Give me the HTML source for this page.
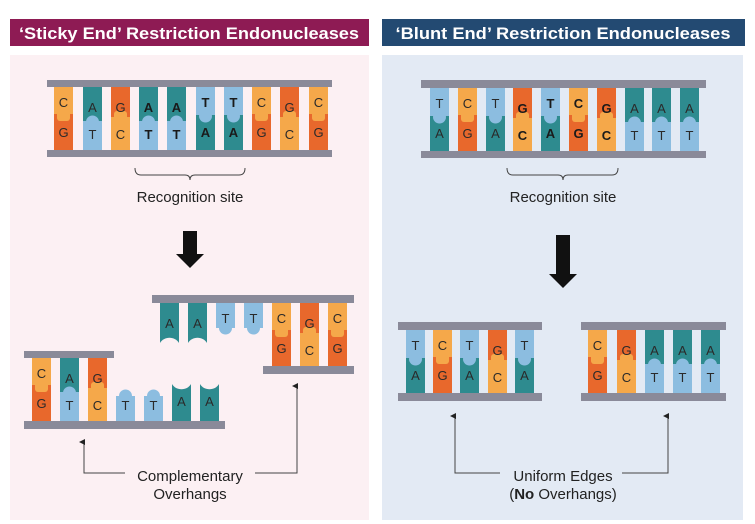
<!DOCTYPE html>
<html><head><meta charset="utf-8"><style>
html,body{margin:0;padding:0;background:#fff;}
svg{display:block;}
text{font-family:"Liberation Sans",Arial,sans-serif;}
.b{font-size:13px;fill:#2a2a2a;text-anchor:middle;}
.bb{font-size:13px;fill:#1a1a1a;text-anchor:middle;font-weight:bold;}
.lbl{font-size:15px;fill:#222;text-anchor:middle;}
</style></head><body>
<svg width="755" height="524" viewBox="0 0 755 524" xmlns="http://www.w3.org/2000/svg">
<defs>
<g id="CG"><rect x="0" y="0" width="19" height="63" fill="#e8682c"/><rect x="0" y="0" width="19" height="27" fill="#f5a84a"/><rect x="3" y="20" width="13" height="14" rx="3" fill="#f5a84a"/></g>
<g id="GC"><rect x="0" y="0" width="19" height="63" fill="#f5a84a"/><rect x="0" y="0" width="19" height="30" fill="#e8682c"/><rect x="0" y="36" width="19" height="27" fill="#f5a84a"/><rect x="3" y="24" width="13" height="14" rx="3" fill="#f5a84a"/></g>
<g id="TA"><rect x="0" y="0" width="19" height="63" fill="#2e8b8f"/><rect x="0" y="0" width="19" height="28" fill="#8cbde0"/><circle cx="9.5" cy="29" r="6.5" fill="#8cbde0"/></g>
<g id="AT"><rect x="0" y="0" width="19" height="63" fill="#8cbde0"/><rect x="0" y="0" width="19" height="34" fill="#2e8b8f"/><circle cx="9.5" cy="35" r="6.5" fill="#8cbde0"/></g>
<g id="Ad"><path d="M0,0H19V40C15,33 4,33 0,40Z" fill="#2e8b8f"/></g>
<g id="Td"><rect x="0" y="0" width="19" height="25" fill="#8cbde0"/><circle cx="9.5" cy="25" r="6.5" fill="#8cbde0"/></g>
<g id="Tu"><rect x="0" y="38" width="19" height="25" fill="#8cbde0"/><circle cx="9.5" cy="38" r="6.5" fill="#8cbde0"/></g>
<g id="Au"><path d="M0,26C4,33 15,33 19,26V63H0Z" fill="#2e8b8f"/></g>
<marker id="ar" markerWidth="6" markerHeight="6" refX="3" refY="5" orient="auto-start-reverse" viewBox="0 0 6 6"><path d="M0,6L3,0L6,6Z" fill="#222"/></marker>
</defs>

<!-- headers & panels -->
<rect x="10" y="19" width="359" height="27" fill="#8e1b54"/>
<rect x="382" y="19" width="363" height="27" fill="#234a72"/>
<text x="189" y="39" fill="#fff" font-size="17" font-weight="bold" text-anchor="middle" textLength="340" lengthAdjust="spacingAndGlyphs">‘Sticky End’ Restriction Endonucleases</text>
<text x="563" y="39" fill="#fff" font-size="17" font-weight="bold" text-anchor="middle" textLength="335" lengthAdjust="spacingAndGlyphs">‘Blunt End’ Restriction Endonucleases</text>
<rect x="10" y="55" width="359" height="465" fill="#fcf0f3"/>
<rect x="382" y="55" width="361" height="465" fill="#e3eaf4"/>

<!-- LEFT TOP DNA -->
<rect x="47" y="80" width="285" height="7" fill="#8a8a99"/>
<rect x="47" y="150" width="285" height="7" fill="#8a8a99"/>
<g transform="translate(0,87)">
<use href="#CG" x="54"/><use href="#AT" x="83"/><use href="#GC" x="111"/><use href="#AT" x="139"/><use href="#AT" x="167"/><use href="#TA" x="196"/><use href="#TA" x="224"/><use href="#CG" x="252"/><use href="#GC" x="280"/><use href="#CG" x="309"/>
<text class="b" x="63.5" y="20">C</text><text class="b" x="63.5" y="50">G</text>
<text class="b" x="92.5" y="25">A</text><text class="b" x="92.5" y="52">T</text>
<text class="b" x="120.5" y="25">G</text><text class="b" x="120.5" y="52">C</text>
<text class="bb" x="148.5" y="25">A</text><text class="bb" x="148.5" y="52">T</text>
<text class="bb" x="176.5" y="25">A</text><text class="bb" x="176.5" y="52">T</text>
<text class="bb" x="205.5" y="20">T</text><text class="bb" x="205.5" y="50">A</text>
<text class="bb" x="233.5" y="20">T</text><text class="bb" x="233.5" y="50">A</text>
<text class="b" x="261.5" y="20">C</text><text class="b" x="261.5" y="50">G</text>
<text class="b" x="289.5" y="25">G</text><text class="b" x="289.5" y="52">C</text>
<text class="b" x="318.5" y="20">C</text><text class="b" x="318.5" y="50">G</text>
</g>
<path d="M135,168 q0,7 6,7 H185 q5,0 5,5 q0,-5 5,-5 H239 q6,0 6,-7" fill="none" stroke="#444" stroke-width="1"/>
<text class="lbl" x="190" y="202">Recognition site</text>
<path d="M183,231H197V254H204L190,268L176,254H183Z" fill="#111"/>

<!-- LEFT FRAG 2 (upper right) -->
<rect x="152" y="295" width="202" height="8" fill="#8a8a99"/>
<rect x="263" y="366" width="91" height="8" fill="#8a8a99"/>
<g transform="translate(0,303)">
<use href="#Ad" x="160"/><use href="#Ad" x="188"/><use href="#Td" x="216"/><use href="#Td" x="244"/><use href="#CG" x="272"/><use href="#GC" x="300"/><use href="#CG" x="328"/>
<text class="b" x="169.5" y="25">A</text><text class="b" x="197.5" y="25">A</text>
<text class="b" x="225.5" y="20">T</text><text class="b" x="253.5" y="20">T</text>
<text class="b" x="281.5" y="20">C</text><text class="b" x="281.5" y="50">G</text>
<text class="b" x="309.5" y="25">G</text><text class="b" x="309.5" y="52">C</text>
<text class="b" x="337.5" y="20">C</text><text class="b" x="337.5" y="50">G</text>
</g>

<!-- LEFT FRAG 1 (lower left) -->
<rect x="24" y="351" width="90" height="7" fill="#8a8a99"/>
<rect x="24" y="421" width="201" height="8" fill="#8a8a99"/>
<g transform="translate(0,358)">
<use href="#CG" x="32"/><use href="#AT" x="60"/><use href="#GC" x="88"/><use href="#Tu" x="116"/><use href="#Tu" x="144"/><use href="#Au" x="172"/><use href="#Au" x="200"/>
<text class="b" x="41.5" y="20">C</text><text class="b" x="41.5" y="50">G</text>
<text class="b" x="69.5" y="25">A</text><text class="b" x="69.5" y="52">T</text>
<text class="b" x="97.5" y="25">G</text><text class="b" x="97.5" y="52">C</text>
<text class="b" x="125.5" y="52">T</text><text class="b" x="153.5" y="52">T</text>
<text class="b" x="181.5" y="48">A</text><text class="b" x="209.5" y="48">A</text>
</g>
<polyline points="125,473 84,473 84,442" fill="none" stroke="#444" stroke-width="1" marker-end="url(#ar)"/>
<polyline points="255,473 297,473 297,386" fill="none" stroke="#444" stroke-width="1" marker-end="url(#ar)"/>
<text class="lbl" x="190" y="481">Complementary</text>
<text class="lbl" x="190" y="499">Overhangs</text>

<!-- RIGHT TOP DNA -->
<rect x="421" y="80" width="285" height="8" fill="#8a8a99"/>
<rect x="421" y="151" width="285" height="7" fill="#8a8a99"/>
<g transform="translate(0,88)">
<use href="#TA" x="430"/><use href="#CG" x="458"/><use href="#TA" x="486"/><use href="#GC" x="513"/><use href="#TA" x="541"/><use href="#CG" x="569"/><use href="#GC" x="597"/><use href="#AT" x="625"/><use href="#AT" x="652"/><use href="#AT" x="680"/>
<text class="b" x="439.5" y="20">T</text><text class="b" x="439.5" y="50">A</text>
<text class="b" x="467.5" y="20">C</text><text class="b" x="467.5" y="50">G</text>
<text class="b" x="495.5" y="20">T</text><text class="b" x="495.5" y="50">A</text>
<text class="bb" x="522.5" y="25">G</text><text class="bb" x="522.5" y="52">C</text>
<text class="bb" x="550.5" y="20">T</text><text class="bb" x="550.5" y="50">A</text>
<text class="bb" x="578.5" y="20">C</text><text class="bb" x="578.5" y="50">G</text>
<text class="bb" x="606.5" y="25">G</text><text class="bb" x="606.5" y="52">C</text>
<text class="b" x="634.5" y="25">A</text><text class="b" x="634.5" y="52">T</text>
<text class="b" x="661.5" y="25">A</text><text class="b" x="661.5" y="52">T</text>
<text class="b" x="689.5" y="25">A</text><text class="b" x="689.5" y="52">T</text>
</g>
<path d="M507,168 q0,7 6,7 H558 q5,0 5,5 q0,-5 5,-5 H612 q6,0 6,-7" fill="none" stroke="#444" stroke-width="1"/>
<text class="lbl" x="563" y="202">Recognition site</text>
<path d="M556,235H570V274H577L563,288L549,274H556Z" fill="#111"/>

<!-- RIGHT FRAG 1 -->
<rect x="398" y="322" width="144" height="8" fill="#8a8a99"/>
<rect x="398" y="393" width="144" height="8" fill="#8a8a99"/>
<g transform="translate(0,330)">
<use href="#TA" x="406"/><use href="#CG" x="433"/><use href="#TA" x="460"/><use href="#GC" x="488"/><use href="#TA" x="515"/>
<text class="b" x="415.5" y="20">T</text><text class="b" x="415.5" y="50">A</text>
<text class="b" x="442.5" y="20">C</text><text class="b" x="442.5" y="50">G</text>
<text class="b" x="469.5" y="20">T</text><text class="b" x="469.5" y="50">A</text>
<text class="b" x="497.5" y="25">G</text><text class="b" x="497.5" y="52">C</text>
<text class="b" x="524.5" y="20">T</text><text class="b" x="524.5" y="50">A</text>
</g>
<!-- RIGHT FRAG 2 -->
<rect x="581" y="322" width="145" height="8" fill="#8a8a99"/>
<rect x="581" y="393" width="145" height="8" fill="#8a8a99"/>
<g transform="translate(0,330)">
<use href="#CG" x="588"/><use href="#GC" x="617"/><use href="#AT" x="645"/><use href="#AT" x="673"/><use href="#AT" x="701"/>
<text class="b" x="597.5" y="20">C</text><text class="b" x="597.5" y="50">G</text>
<text class="b" x="626.5" y="25">G</text><text class="b" x="626.5" y="52">C</text>
<text class="b" x="654.5" y="25">A</text><text class="b" x="654.5" y="52">T</text>
<text class="b" x="682.5" y="25">A</text><text class="b" x="682.5" y="52">T</text>
<text class="b" x="710.5" y="25">A</text><text class="b" x="710.5" y="52">T</text>
</g>
<polyline points="500,473 455,473 455,416" fill="none" stroke="#444" stroke-width="1" marker-end="url(#ar)"/>
<polyline points="622,473 668,473 668,416" fill="none" stroke="#444" stroke-width="1" marker-end="url(#ar)"/>
<text class="lbl" x="563" y="481">Uniform Edges</text>
<text class="lbl" x="563" y="499">(<tspan font-weight="bold">No</tspan> Overhangs)</text>
</svg>
</body></html>
